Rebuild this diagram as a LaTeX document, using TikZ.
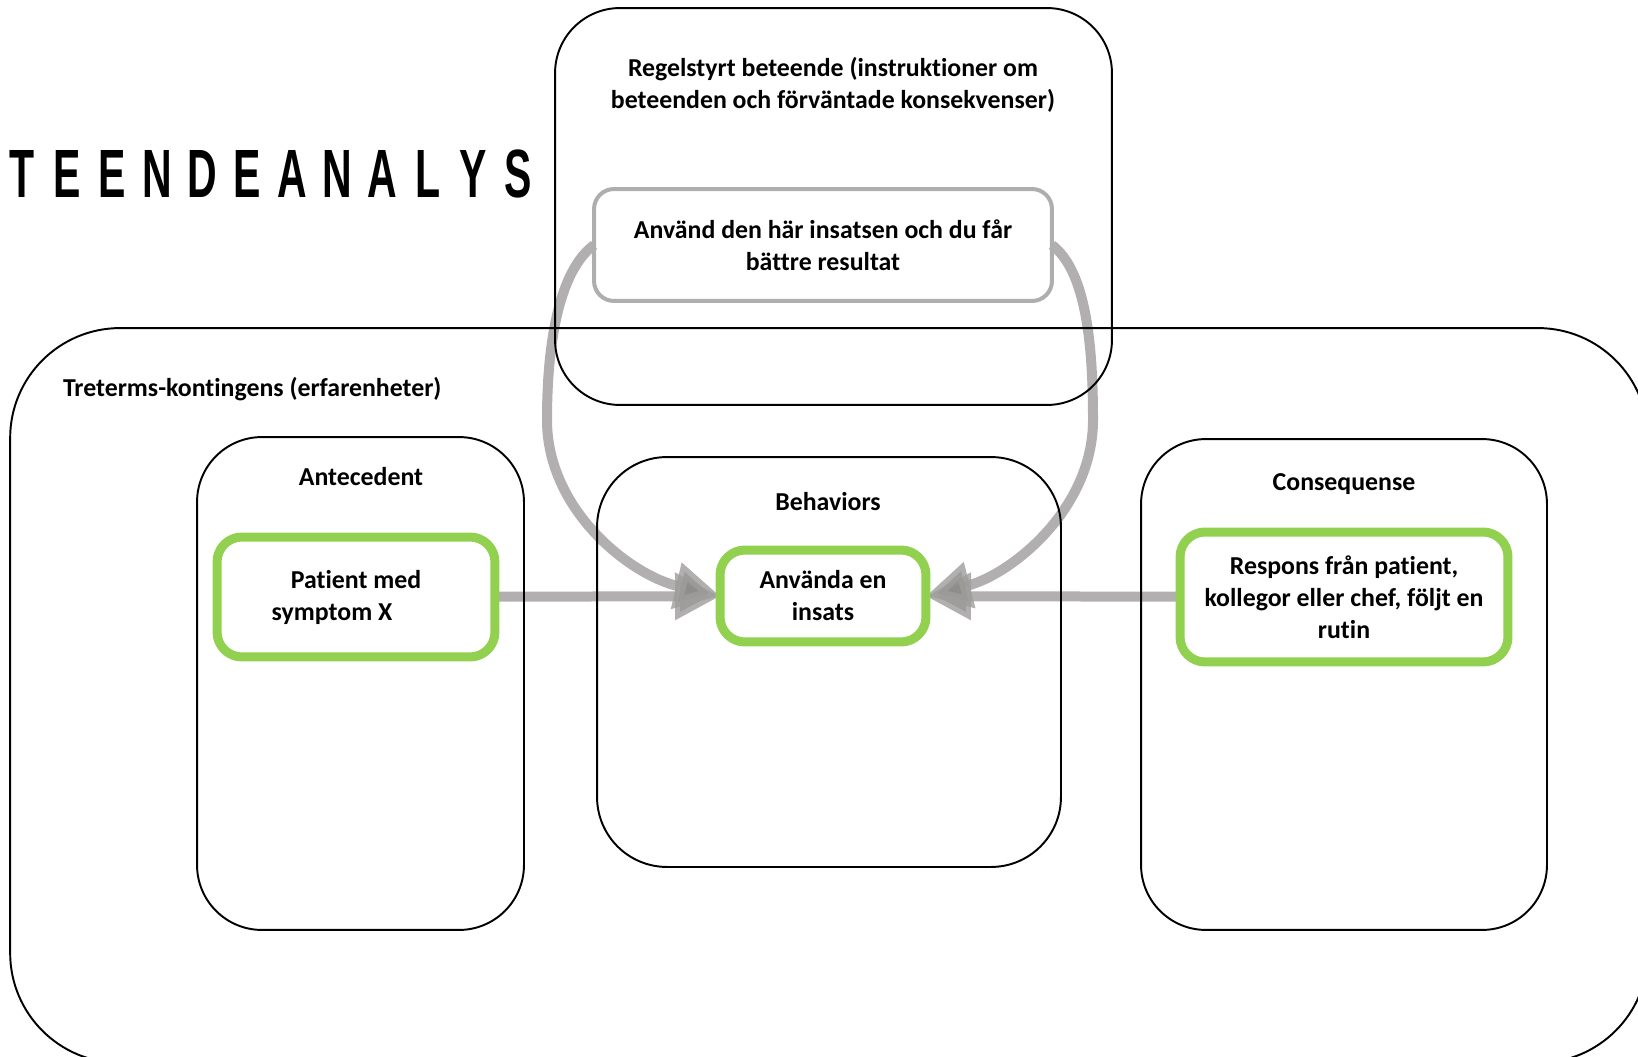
\documentclass[tikz,border=0pt]{standalone}
\usepackage{fontspec}
\setmainfont{Carlito}[Ligatures=NoCommon]
\newfontfamily\headfont{Liberation Sans}
\usepackage{xcolor}
\usepackage{tikz}
\usetikzlibrary{positioning}
\usetikzlibrary{arrows.meta}
\usetikzlibrary{backgrounds}
\definecolor{okgreen}{RGB}{146,208,80}
\definecolor{arrowgrey}{RGB}{160,157,157}
\definecolor{headgrey}{RGB}{140,137,137}
\definecolor{boxgrey}{RGB}{176,173,173}

\begin{document}
\begin{tikzpicture}[x=0.02cm, y=-0.02cm,%
	base/.style={align=center, outer sep=0pt, inner sep=0pt,
		font=\fontsize{14.7}{18.2}\selectfont\bfseries},
	frame/.style={base, draw=black, line width=1.1pt, rounded corners=1.3cm},
	pick/.style={base, draw=okgreen, line width=0.18cm, rounded corners=0.5cm},
	ruleframe/.style={base, draw=boxgrey, line width=0.08cm, rounded corners=0.4cm},
	heading/.style={base},
	letter/.style={anchor=base, inner sep=0pt,
		font=\headfont\fontsize{38.9}{40}\selectfont\bfseries},
	arrow/.style={draw=arrowgrey, line width=0.2cm, opacity=0.82,
		arrows={-{Triangle[length=0.9cm, width=0.9cm, fill=headgrey]}}}%
	]
	\useasboundingbox (0,0) rectangle (1638,1057);
	%
	% Title
	%
	\foreach \ch [count=\i from 0] in {T,E,E,N,D,E,A,N,A,L,Y,S}
		\node[letter] (head\i) at (22+45.1*\i,198) {\scalebox{0.6}[1]{\ch}};
	%
	% Frames
	%
	\node[frame, rounded corners=2.2cm, minimum width=32.76cm, minimum height=14.7cm] (treterms) at (829,695.5) {};
	\node[frame, minimum width=11.14cm, minimum height=7.94cm] (regel) at (833.5,206.5) {};
	\node[frame, minimum width=6.54cm, minimum height=9.86cm] (ante) at (360.5,683.5) {};
	\node[frame, rounded corners=1.4cm, minimum width=9.28cm, minimum height=8.2cm] (beh) at (829,662) {};
	\node[frame, minimum width=8.12cm, minimum height=9.82cm] (cons) at (1344,684.5) {};
	\node[heading] (regeltitle) at (833,84.5) {Regelstyrt beteende (instruktioner om\\ beteenden och förväntade konsekvenser)};
	\node[heading, anchor=west] (tretitle) at (63,389) {Treterms-kontingens (erfarenheter)};
	\node[heading] (antetitle) at (361,477) {Antecedent};
	\node[heading] (behtitle) at (828,502) {Behaviors};
	\node[heading] (constitle) at (1344,484) {Consequense};
	%
	% Boxes
	%
	\node[ruleframe, minimum width=9.16cm, minimum height=2.24cm] (rule) at (823,245) {Använd den här insatsen och du får\\ bättre resultat};
	\node[pick, minimum width=5.56cm, minimum height=2.4cm] (patient) at (356,597) {Patient med\\ symptom X\hspace*{0.96cm}};
	\node[pick, minimum width=4.12cm, minimum height=1.84cm] (use) at (823,596) {Använda en\\ insats};
	\node[pick, minimum width=6.56cm, minimum height=2.6cm] (resp) at (1344,597) {Respons från patient,\\ kollegor eller chef, följt en\\ rutin};
	%
	% Arrows
	%
	\begin{scope}[on background layer]
		\path[arrow] (patient) edge (use);
		\path[arrow] (resp) edge (use);
		\draw[arrow] (rule.west) .. controls (560,270) and (547,340) .. (547,420)
			.. controls (547,510) and (630,575) .. (use.west);
		\draw[arrow] (rule.east) .. controls (1085,270) and (1093,340) .. (1093,420)
			.. controls (1093,510) and (1010,575) .. (use.east);
	\end{scope}
\end{tikzpicture}
\end{document}
